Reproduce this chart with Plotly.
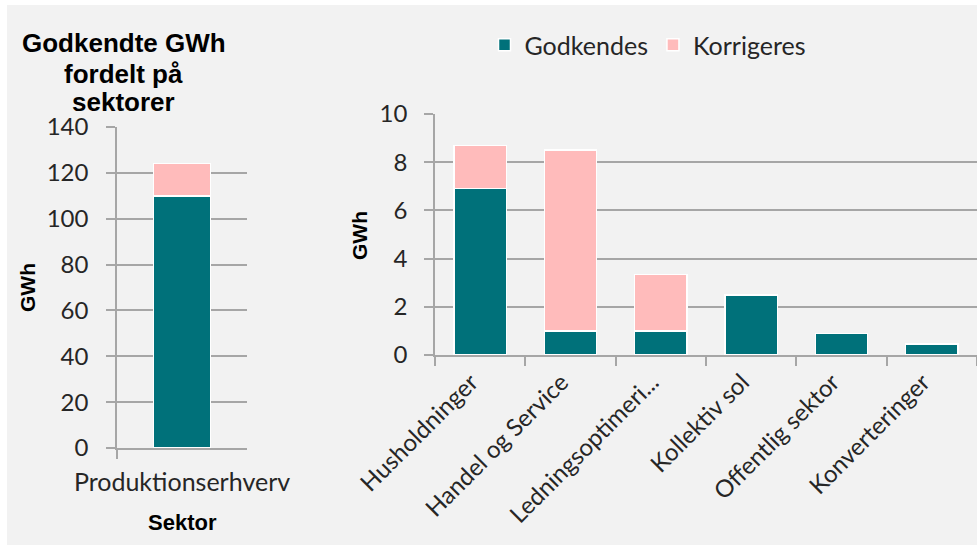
import plotly.graph_objects as go

# Data
left_categories = ["Produktionserhverv"]
left_godkendes = [110]
left_korrigeres = [14]

right_categories = ["Husholdninger", "Handel og Service", "Ledningsoptimeri...",
                    "Kollektiv sol", "Offentlig sektor", "Konverteringer"]
right_godkendes = [6.9, 1.0, 1.0, 2.5, 0.9, 0.45]
right_korrigeres = [1.8, 7.5, 2.35, 0.0, 0.0, 0.0]

left_yticks = [0, 20, 40, 60, 80, 100, 120, 140]
right_yticks = [0, 2, 4, 6, 8, 10]

title_lines = ["Godkendte GWh", "fordelt på", "sektorer"]

TEAL = "#00717A"
PINK = "#FFBBBB"
GRID = "#A6A6A6"
BG = "#F2F2F2"
TXT = "#262626"
REG = "Lato, 'Open Sans', sans-serif"
BOLD = "'Liberation Sans', Arial, sans-serif"

W, H = 977, 545
def px(x): return x / W
def py(y): return 1 - y / H

fig = go.Figure()
line = dict(color="white", width=1.5)

fig.add_trace(go.Bar(x=left_categories, y=left_godkendes, name="Godkendes",
                     marker=dict(color=TEAL, line=line), width=0.44,
                     xaxis="x", yaxis="y", showlegend=False))
fig.add_trace(go.Bar(x=left_categories, y=left_korrigeres, name="Korrigeres",
                     marker=dict(color=PINK, line=line), width=0.44,
                     xaxis="x", yaxis="y", showlegend=False))
fig.add_trace(go.Bar(x=right_categories, y=right_godkendes, name="Godkendes",
                     marker=dict(color=TEAL, line=line), width=0.58,
                     xaxis="x2", yaxis="y2"))
fig.add_trace(go.Bar(x=right_categories, y=right_korrigeres, name="Korrigeres",
                     marker=dict(color=PINK, line=line), width=0.58,
                     xaxis="x2", yaxis="y2"))

axis_common = dict(showline=True, linecolor=GRID, linewidth=1.5, ticks="outside",
                   tickcolor=GRID, ticklen=9, tickwidth=1.5, automargin=False)
yfont = dict(family=REG, size=24, color=TXT)
xfont = dict(family=REG, size=24, color=TXT)

annotations = []
for txt, yc in zip(title_lines, [43, 74, 102]):
    annotations.append(dict(text="<b>" + txt + "</b>", xref="paper", yref="paper",
                            x=px(124), y=py(yc), xanchor="center", yanchor="middle",
                            showarrow=False, font=dict(family=BOLD, size=26, color="black")))
annotations += [
    dict(text="<b>GWh</b>", xref="paper", yref="paper", x=px(27), y=py(288),
         xanchor="center", yanchor="middle", textangle=-90, showarrow=False,
         font=dict(family=BOLD, size=21, color="black")),
    dict(text="<b>GWh</b>", xref="paper", yref="paper", x=px(359), y=py(236),
         xanchor="center", yanchor="middle", textangle=-90, showarrow=False,
         font=dict(family=BOLD, size=21, color="black")),
    dict(text="<b>Sektor</b>", xref="paper", yref="paper", x=px(182), y=py(522),
         xanchor="center", yanchor="middle", showarrow=False,
         font=dict(family=BOLD, size=22, color="black")),
]

fig.update_layout(
    width=W, height=H,
    margin=dict(l=0, r=0, t=0, b=0),
    paper_bgcolor=BG, plot_bgcolor=BG,
    barmode="stack",
    showlegend=True,
    legend=dict(orientation="h", x=px(648), xanchor="center", y=py(45), yanchor="middle",
                font=dict(family=REG, size=25, color=TXT), bgcolor="rgba(0,0,0,0)",
                traceorder="normal", itemwidth=30),
    xaxis=dict(domain=[px(117), px(247)], anchor="y", tickson="boundaries",
               showgrid=False, tickangle=0, ticklabelstandoff=11,
               tickfont=dict(family=REG, size=25, color=TXT), **axis_common),
    yaxis=dict(domain=[py(448), py(127)], anchor="x", range=[0, 140],
               tickvals=left_yticks, showgrid=True, gridcolor=GRID, gridwidth=1.5,
               zeroline=False, ticklabelstandoff=13, tickfont=yfont, **axis_common),
    xaxis2=dict(domain=[px(435), px(977)], anchor="y2", tickson="boundaries",
                showgrid=False, tickangle=-45, ticklabelstandoff=2, ticklabelshift=-9,
                tickfont=xfont, **axis_common),
    yaxis2=dict(domain=[py(355), py(114)], anchor="x2", range=[0, 10],
                tickvals=right_yticks, showgrid=True, gridcolor=GRID, gridwidth=1.5,
                zeroline=False, ticklabelstandoff=12, tickfont=yfont, **axis_common),
    shapes=[
        dict(type="rect", xref="paper", yref="paper", x0=0, x1=1, y0=py(5), y1=1,
             fillcolor="white", line=dict(width=0), layer="below"),
        dict(type="rect", xref="paper", yref="paper", x0=0, x1=px(7), y0=0, y1=1,
             fillcolor="white", line=dict(width=0), layer="below"),
    ],
    annotations=annotations,
)

fig.write_html("out.html", config={"displayModeBar": False},
               post_script="document.body.style.margin='0';document.body.style.overflow='hidden';")
